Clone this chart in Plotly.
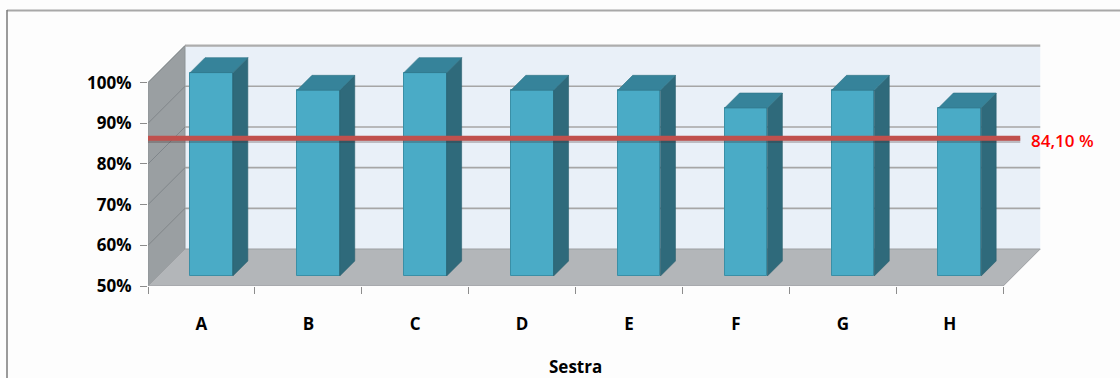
import plotly.graph_objects as go

# ---- data -------------------------------------------------------------
categories = ["A", "B", "C", "D", "E", "F", "G", "H"]
values = [100.0, 95.65, 100.0, 95.65, 95.65, 91.3, 95.65, 91.3]   # percent
threshold = 84.10                                               # percent
threshold_label = "84,10 %"
y_ticks = [50, 60, 70, 80, 90, 100]
y_tick_labels = ["50%", "60%", "70%", "80%", "90%", "100%"]
x_title = "Sestra"

# ---- layout geometry ----------------------------------------------------
W, H = 1120, 378
L, R, T, B = 148, 74, 44, 92
X_RANGE = (0, 8.4)
Y_RANGE = (50, 109.5)
PX_X = (W - L - R) / (X_RANGE[1] - X_RANGE[0])
PX_Y = (H - T - B) / (Y_RANGE[1] - Y_RANGE[0])

BOX_DEPTH = 37          # depth of the pseudo-3D box, px
BAR_D0, BAR_D1 = 10, 25 # front/back depth of bars, px
BAR_W = 0.4             # bar width in category units
Y0 = y_ticks[0]
Y1 = y_ticks[-1]
N = len(categories)


def off(d):
    """Screen offset (up/right) of a point d px deep, in data units."""
    return d / PX_X, d / PX_Y


def poly(pts, fill, line_color=None, width=0, layer="below"):
    path = "M " + " L ".join(f"{x},{y}" for x, y in pts) + " Z"
    return dict(type="path", path=path, xref="x", yref="y", layer=layer,
                fillcolor=fill,
                line=dict(color=line_color or fill, width=width))


def seg(x0, y0, x1, y1, color, width, layer="below", xref="x", yref="y"):
    return dict(type="line", x0=x0, y0=y0, x1=x1, y1=y1, xref=xref, yref=yref,
                layer=layer, line=dict(color=color, width=width))


shapes = []
bx, by = off(BOX_DEPTH)

# back wall
shapes.append(poly([(bx, Y0 + by), (N + bx, Y0 + by), (N + bx, Y1 + by), (bx, Y1 + by)],
                   "#e9f0f8"))
# side wall
shapes.append(poly([(0, Y0), (0, Y1), (bx, Y1 + by), (bx, Y0 + by)],
                   "#9a9fa2", "#8d9396", 1))
# gridlines on back wall and side wall
for v in y_ticks[1:]:
    shapes.append(seg(bx, v + by, N + bx, v + by,
                      "#a6a6a6" if v < Y1 else "#adadad", 1.6 if v < Y1 else 2.2))
    shapes.append(seg(0, v, bx, v + by, "#80868a", 1))
# floor
shapes.append(poly([(0, Y0), (N, Y0), (N + bx, Y0 + by), (bx, Y0 + by)],
                   "#b3b6b9", "#9c9fa2", 1))

# bar top and side faces
fx0, fy0 = off(BAR_D0)
dx, dy = off(BAR_D1 - BAR_D0)
for i, v in enumerate(values):
    xl = i + 0.5 - BAR_W / 2 + fx0
    xr = i + 0.5 + BAR_W / 2 + fx0
    yb = Y0 + fy0
    yt = v + fy0
    shapes.append(poly([(xr, yb), (xr, yt), (xr + dx, yt + dy), (xr + dx, yb + dy)],
                       "#2f6a7b", "#2a5f6e", 0.6, layer="above"))
    shapes.append(poly([(xl, yt), (xr, yt), (xr + dx, yt + dy), (xl + dx, yt + dy)],
                       "#36839a", "#2f7487", 0.6, layer="above"))

# threshold line with a soft shadow
ly = threshold + 9 / PX_Y
lx1 = N + 17 / PX_X
shapes.append(seg(0, ly - 2.2 / PX_Y, lx1, ly - 2.2 / PX_Y, "rgba(60,30,30,0.25)", 5,
                  layer="above"))
shapes.append(seg(0, ly, lx1, ly, "#c0504d", 5, layer="above"))

# page frame
shapes.append(seg(7, 10.5, W, 10.5, "#a8a8a8", 2, layer="above",
                  xref="paper", yref="paper"))
shapes.append(seg(7, 10, 7, H, "#7a7a7a", 1.5, layer="above",
                  xref="paper", yref="paper"))
# convert page-frame pixel coords to paper coords
for s in shapes[-2:]:
    for k in ("x0", "x1"):
        s[k] = (s[k] - L) / (W - L - R)
    for k in ("y0", "y1"):
        s[k] = (H - B - s[k]) / (H - T - B)

fig = go.Figure()
fig.add_trace(go.Bar(
    x=[i + 0.5 + fx0 for i in range(N)],
    y=[v - Y0 for v in values],
    base=[Y0 + fy0] * N,
    width=BAR_W,
    marker=dict(color="#4aabc6", line=dict(color="#3a8fa6", width=1)),
    hoverinfo="skip",
))

font_name = "Open Sans, DejaVu Sans, sans-serif"

fig.update_layout(
    width=W, height=H,
    margin=dict(l=L, r=R, t=T, b=B, pad=0),
    paper_bgcolor="#fdfdfd",
    plot_bgcolor="rgba(0,0,0,0)",
    showlegend=False,
    shapes=shapes,
    bargap=0,
    xaxis=dict(
        range=list(X_RANGE), showgrid=False, zeroline=False, showline=False,
        tickmode="array", tickvals=[i + 0.5 for i in range(N)], ticktext=categories,
        ticks="", ticklabelstandoff=26,
        tickfont=dict(family=font_name, size=17, color="#000000", weight="bold"),
        minor=dict(tickmode="array", tickvals=list(range(N + 1)), ticks="outside",
                   ticklen=7, tickcolor="#8c8c8c", tickwidth=1.2, showgrid=False),
        fixedrange=True,
    ),
    yaxis=dict(
        range=list(Y_RANGE), showgrid=False, zeroline=False, showline=False,
        tickmode="array", tickvals=y_ticks, ticktext=y_tick_labels,
        ticks="outside", ticklen=7, tickcolor="#8c8c8c", tickwidth=1.2,
        ticklabelstandoff=5,
        tickfont=dict(family=font_name, size=17, color="#000000", weight="bold"),
        fixedrange=True,
    ),
    annotations=[
        dict(x=N / 2, y=0, xref="x", yref="paper", text=x_title, showarrow=False,
             yanchor="middle", yshift=-80,
             font=dict(family=font_name, size=17, color="#000000", weight="bold")),
        dict(x=lx1, y=ly, xref="x", yref="y", text=threshold_label, showarrow=False,
             xanchor="left", yanchor="middle", xshift=9, yshift=-2,
             font=dict(family=font_name, size=17, color="#ff0000", weight=600)),
    ],
)

fig.write_html("out.html")
